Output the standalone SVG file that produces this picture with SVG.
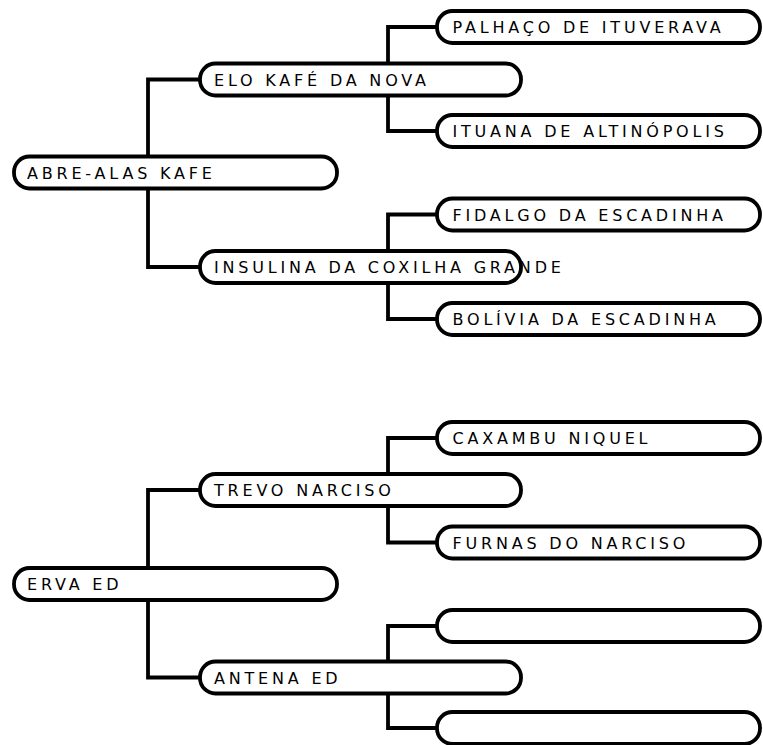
<svg xmlns="http://www.w3.org/2000/svg" width="763" height="745" viewBox="0 0 763 745">
<style>
.n rect{fill:#fff;stroke:#000;stroke-width:3.8}
.n text{font-family:"DejaVu Sans",Verdana,sans-serif;font-size:16px;letter-spacing:3.8px;fill:#000}
.c path{fill:none;stroke:#000;stroke-width:3.8}
</style>
<rect width="763" height="745" fill="#fff"/>
<g class="c">
<path d="M200,79.5 H148 V267 H200"/>
<path d="M437,27 H388 V131 H437"/>
<path d="M437,214.5 H388 V319 H437"/>
<path d="M200,490 H148 V677.5 H200"/>
<path d="M437,438 H388 V542.5 H437"/>
<path d="M437,626 H388 V728 H437"/>
</g>
<g id="n-abre" class="n"><rect x="14" y="156.5" width="323" height="32" rx="15.5"/><text x="27" y="178.5">ABRE-ALAS KAFE</text></g>
<g id="n-elo" class="n"><rect x="200" y="63.5" width="321" height="32" rx="15.5"/><text x="214" y="85.5">ELO KAFÉ DA NOVA</text></g>
<g id="n-palhaco" class="n"><rect x="437" y="11" width="323" height="32" rx="15.5"/><text x="452.5" y="33">PALHAÇO DE ITUVERAVA</text></g>
<g id="n-ituana" class="n"><rect x="437" y="115" width="323" height="32" rx="15.5"/><text x="452.5" y="137">ITUANA DE ALTINÓPOLIS</text></g>
<g id="n-insulina" class="n"><rect x="200" y="251" width="321" height="32" rx="15.5"/><text x="214" y="273">INSULINA DA COXILHA GRANDE</text></g>
<g id="n-fidalgo" class="n"><rect x="437" y="198.5" width="323" height="32" rx="15.5"/><text x="452.5" y="220.5">FIDALGO DA ESCADINHA</text></g>
<g id="n-bolivia" class="n"><rect x="437" y="303" width="323" height="32" rx="15.5"/><text x="452.5" y="325">BOLÍVIA DA ESCADINHA</text></g>
<g id="n-erva" class="n"><rect x="14" y="568" width="323" height="32" rx="15.5"/><text x="27" y="590">ERVA ED</text></g>
<g id="n-trevo" class="n"><rect x="200" y="474" width="321" height="32" rx="15.5"/><text x="214" y="496">TREVO NARCISO</text></g>
<g id="n-caxambu" class="n"><rect x="437" y="422" width="323" height="32" rx="15.5"/><text x="452.5" y="444">CAXAMBU NIQUEL</text></g>
<g id="n-furnas" class="n"><rect x="437" y="526.5" width="323" height="32" rx="15.5"/><text x="452.5" y="548.5">FURNAS DO NARCISO</text></g>
<g id="n-antena" class="n"><rect x="200" y="661.5" width="321" height="32" rx="15.5"/><text x="214" y="683.5">ANTENA ED</text></g>
<g id="n-blank1" class="n"><rect x="437" y="610" width="323" height="32" rx="15.5"/></g>
<g id="n-blank2" class="n"><rect x="437" y="712" width="323" height="32" rx="15.5"/></g>
</svg>
